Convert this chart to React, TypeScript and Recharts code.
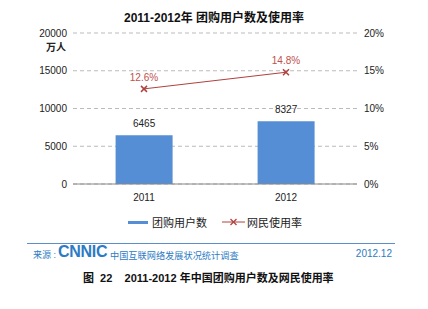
import React from 'react';
import {
    ComposedChart,
    Bar,
    Line,
    XAxis,
    YAxis,
    CartesianGrid,
    LabelList,
} from 'recharts';

// values
const years = ['2011', '2012'];
const users = [6465, 8327];
const rate = [0.126, 0.148];
const leftTicks = [0, 5000, 10000, 15000, 20000];
const rightTicks = [0, 0.05, 0.1, 0.15, 0.2];

const data = years.map((y, i) => ({ year: y, users: users[i], rate: rate[i] }));

const FONT = '"Liberation Sans", Arial, "Noto Sans CJK SC", sans-serif';
const BAR = '#558ED5';
const RED = '#B0413E';
const BLUE = '#2C7BC4';

const Cross = (props: any) => {
    const { cx, cy } = props;
    if (cx == null || cy == null) return null;
    const s = 3;
    return (
        <g stroke={RED} strokeWidth={1.5}>
            <line x1={cx - s} y1={cy - s} x2={cx + s} y2={cy + s} />
            <line x1={cx - s} y1={cy + s} x2={cx + s} y2={cy - s} />
        </g>
    );
};

export default function App() {
    const tick = { fontSize: 10, fill: '#222', fontFamily: FONT };
    return (
        <div style={{ position: 'absolute', left: 0, top: 0, width: 428, height: 309, background: '#fff', fontFamily: FONT, overflow: 'hidden' }}>
            <div style={{ position: 'absolute', left: 0, width: 428, top: 8, textAlign: 'center', fontSize: 12, fontWeight: 'bold', color: '#111' }}>
                2011-2012年 团购用户数及使用率
            </div>
            <ComposedChart
                width={428}
                height={309}
                data={data}
                margin={{ top: 33, right: 0, bottom: 95, left: 0 }}
                barCategoryGap="30%"
            >
                <CartesianGrid vertical={false} stroke="#bbb" strokeDasharray="4 3" yAxisId="left" />
                <XAxis
                    dataKey="year"
                    tickLine={false}
                    axisLine={{ stroke: '#888' }}
                    tick={tick}
                    tickMargin={4}
                    height={30}
                />
                <YAxis
                    yAxisId="left"
                    domain={[0, 20000]}
                    ticks={leftTicks}
                    axisLine={false}
                    tickLine={false}
                    tickSize={4}
                    tickMargin={2}
                    width={73}
                    tick={tick}
                />
                <YAxis
                    yAxisId="right"
                    orientation="right"
                    domain={[0, 0.2]}
                    ticks={rightTicks}
                    axisLine={false}
                    tickLine={false}
                    tickSize={5}
                    tickMargin={2}
                    width={71}
                    tick={tick}
                    tickFormatter={(v: number) => `${Math.round(v * 100)}%`}
                />
                <Bar yAxisId="left" dataKey="users" fill={BAR} isAnimationActive={false}>
                    <LabelList dataKey="users" position="top" offset={8} style={{ fontSize: 10, fill: '#222', fontFamily: FONT }} />
                </Bar>
                <Line
                    yAxisId="right"
                    dataKey="rate"
                    stroke={RED}
                    strokeWidth={1}
                    dot={<Cross />}
                    activeDot={false}
                    isAnimationActive={false}
                >
                    <LabelList
                        dataKey="rate"
                        position="top"
                        offset={8}
                        formatter={(v: any) => `${(Number(v) * 100).toFixed(1)}%`}
                        style={{ fontSize: 10, fill: '#C0504D', fontFamily: FONT }}
                    />
                </Line>
            </ComposedChart>
            <div style={{ position: 'absolute', left: 46, top: 39, fontSize: 10, color: '#222', fontWeight: 'bold' }}>万人</div>
            {/* legend */}
            <div style={{ position: 'absolute', left: 128, top: 221, width: 20, height: 3, background: BAR }} />
            <div style={{ position: 'absolute', left: 152, top: 214, fontSize: 11, color: '#222' }}>团购用户数</div>
            <svg style={{ position: 'absolute', left: 222, top: 218 }} width={23} height={8}>
                <line x1={0} y1={4} x2={23} y2={4} stroke={RED} strokeWidth={1} />
                <line x1={8.5} y1={1} x2={14.5} y2={7} stroke={RED} strokeWidth={1.2} />
                <line x1={8.5} y1={7} x2={14.5} y2={1} stroke={RED} strokeWidth={1.2} />
            </svg>
            <div style={{ position: 'absolute', left: 247, top: 214, fontSize: 11, color: '#222' }}>网民使用率</div>
            {/* footer */}
            <div style={{ position: 'absolute', left: 27, top: 243, width: 368, height: 1, background: '#5B8FCC' }} />
            <div style={{ position: 'absolute', left: 33, top: 248, fontSize: 9, color: BLUE, whiteSpace: 'pre' }}>来源 :</div>
            <div style={{ position: 'absolute', left: 58, top: 243, fontSize: 16, fontWeight: 900, color: BLUE, letterSpacing: -0.3 }}>CNNIC</div>
            <div style={{ position: 'absolute', left: 110, top: 248, fontSize: 9.2, color: BLUE }}>中国互联网络发展状况统计调查</div>
            <div style={{ position: 'absolute', right: 36, top: 248, fontSize: 10, color: BLUE }}>2012.12</div>
            <div style={{ position: 'absolute', left: 83, top: 269, fontSize: 11, fontWeight: 'bold', color: '#111', whiteSpace: 'pre' }}>
                图  22    2011-2012 年中国团购用户数及网民使用率
            </div>
        </div>
    );
}
